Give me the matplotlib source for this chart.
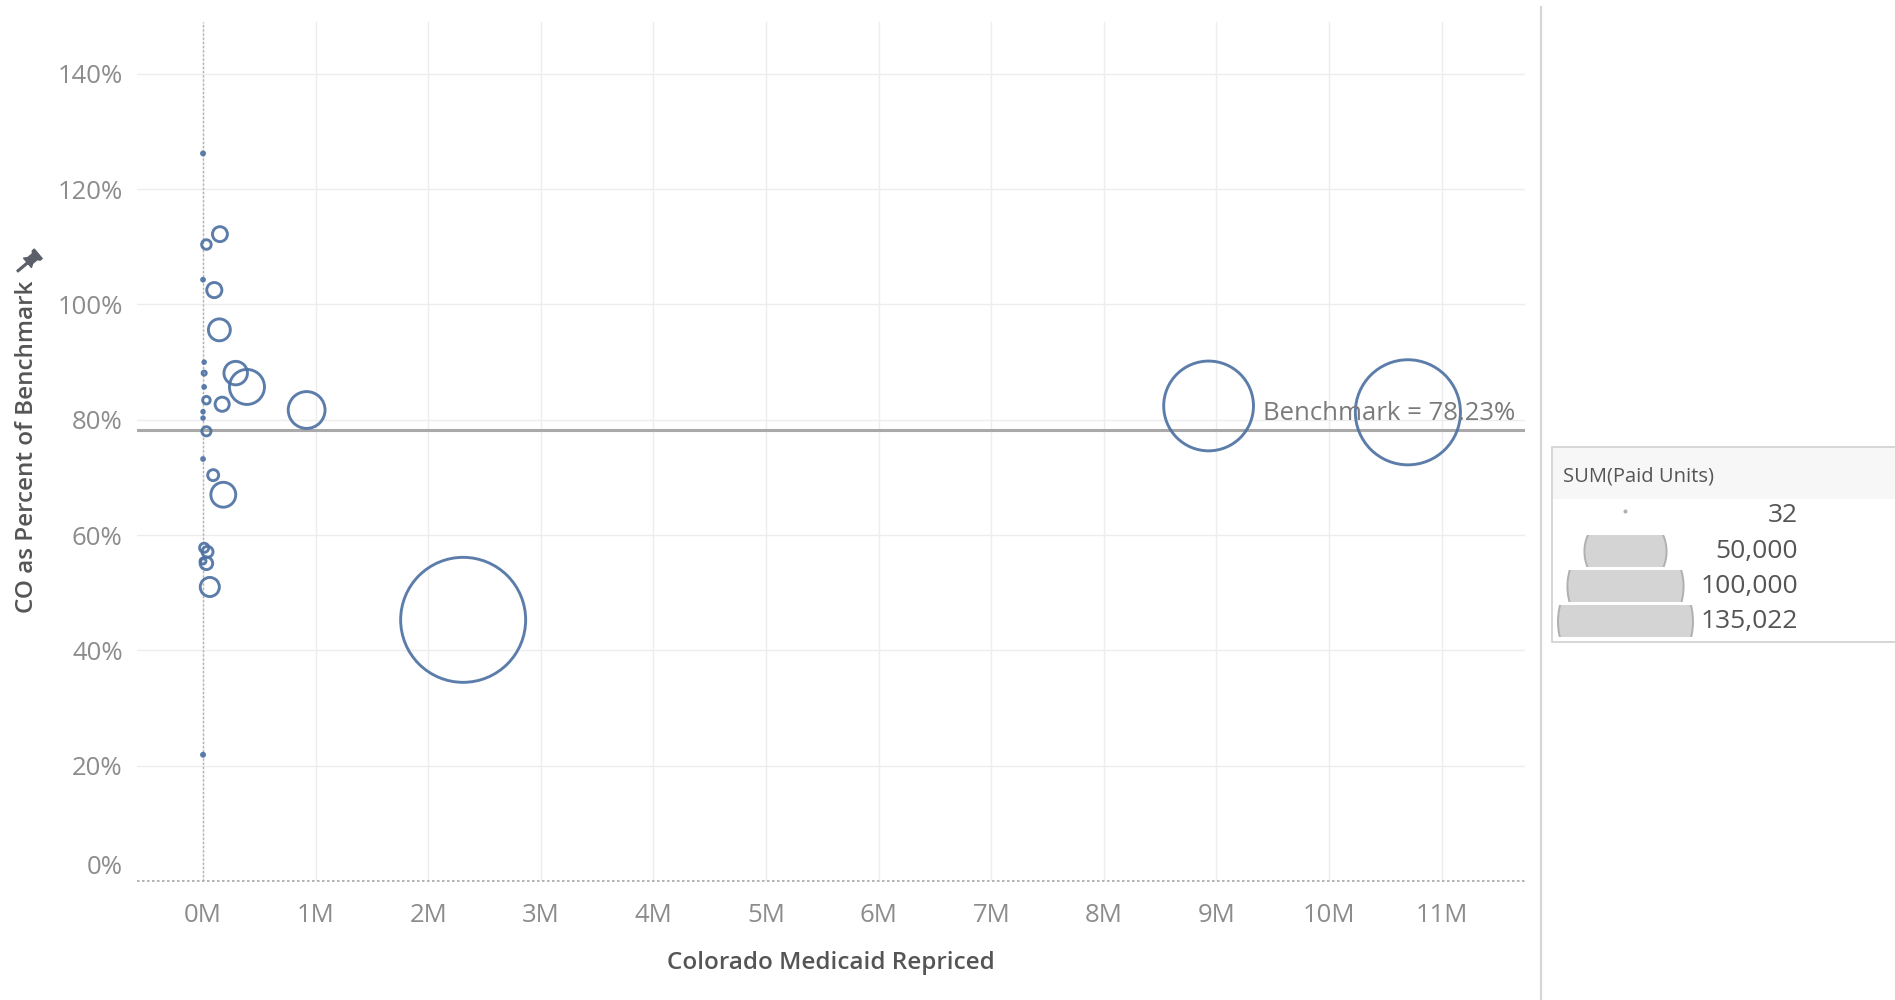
import matplotlib
matplotlib.use("Agg")
import matplotlib.pyplot as plt
from matplotlib.patches import Rectangle, Circle
from matplotlib.path import Path
from matplotlib.transforms import ScaledTranslation, Affine2D
import numpy as np

plt.rcParams['font.family'] = ['Open Sans', 'DejaVu Sans']

# ---------------- data ----------------
repriced_m = [0.00, 0.15, 0.03, 0.00, 0.10, 0.145, 0.01, 0.01, 0.29, 0.39,
              0.01, 0.03, 0.17, 0.00, 0.00, 0.92, 0.03, 0.00, 0.09, 0.18,
              0.01, 0.04, 0.03, 0.00, 0.06, 0.00, 2.31, 8.93, 10.70]
pct_of_benchmark = [126.2, 112.2, 110.4, 104.3, 102.5, 95.6, 90.0, 88.1, 88.1, 85.7,
                    85.7, 83.4, 82.7, 81.4, 80.3, 81.7, 78.0, 73.2, 70.4, 67.0,
                    57.8, 57.1, 55.1, 55.5, 51.0, 21.9, 45.3, 82.4, 81.3]
paid_units = [80, 1930, 790, 70, 1980, 4140, 60, 150, 4770, 10600,
              70, 495, 1730, 60, 60, 11720, 725, 70, 1040, 5350,
              725, 1040, 1360, 300, 3160, 80, 135022, 69640, 95440]
benchmark = 78.23
x_ticks_m = list(range(0, 12))
y_ticks = [0, 20, 40, 60, 80, 100, 120, 140]
legend_values = [32, 50000, 100000, 135022]
legend_labels = ["32", "50,000", "100,000", "135,022"]

W, H = 1895, 1000
DPI = 100
fig = plt.figure(figsize=(W / DPI, H / DPI), dpi=DPI)
fig.patch.set_facecolor('white')

# axes in pixel coords
ax_l, ax_r, ax_t, ax_b = 136.6, 1525, 22, 881
ax = fig.add_axes([ax_l / W, 1 - ax_b / H, (ax_r - ax_l) / W, (ax_b - ax_t) / H])

MAX_R_PX = 62.5
MAX_U = 135022
LW_PX = 2.9

def size_pts2(u):
    r_px = MAX_R_PX * np.sqrt(np.asarray(u, float) / MAX_U)
    d_pt = 2 * r_px * 72.0 / DPI
    return d_pt ** 2

x_vals = np.array(repriced_m) * 1e6
ax.scatter(x_vals, pct_of_benchmark, s=size_pts2(paid_units), facecolors='none',
           edgecolors='#4e72a3', linewidths=LW_PX * 72 / DPI, zorder=3, alpha=0.92)

ax.set_xlim(-0.59e6, 11.74e6)
ax.set_ylim(0, 149.0)

ax.set_xticks([t * 1e6 for t in x_ticks_m])
ax.set_xticklabels([f"{t}M" for t in x_ticks_m])
ax.set_yticks(y_ticks)
ax.set_yticklabels([f"{t}%" for t in y_ticks])

ax.grid(True, color='#ededed', linewidth=1.0, zorder=0)
ax.set_axisbelow(True)
for sp in ax.spines.values():
    sp.set_visible(False)
ax.tick_params(axis='both', length=0, labelcolor='#8c8c8c', labelsize=18.5)
ax.tick_params(axis='x', pad=15.5)
ax.tick_params(axis='y', pad=10)

# zero lines (dotted)
ax.axvline(0, color='#b0b0b0', linewidth=1.0, linestyle=(0, (1.5, 1.5)), zorder=1)
ax.axhline(0, color='#a8a8a8', linewidth=1.2, linestyle=(0, (1.5, 1.5)), zorder=1, clip_on=False)

# raise 0% label like reference
for lbl in ax.get_yticklabels():
    if lbl.get_text() == "0%":
        lbl.set_transform(lbl.get_transform() + ScaledTranslation(0, 16 / DPI, fig.dpi_scale_trans))

# benchmark line
ax.axhline(benchmark, color='#a9a9a9', linewidth=2.2, zorder=2)
ax.text(11.655e6, benchmark + 0.7, f"Benchmark = {benchmark:.2f}%", ha='right', va='bottom',
        fontsize=18.5, color='#7a7a7a', zorder=4)

ax.set_xlabel("Colorado Medicaid Repriced", fontsize=17.5, color='#555555', fontweight='semibold')
ax.set_ylabel("CO as Percent of Benchmark", fontsize=17.5, color='#555555', fontweight='semibold')
ax.xaxis.set_label_coords(0.5, (ax_b - 963) / (ax_b - ax_t))
ax.xaxis.label.set_va('center')
ax.yaxis.set_label_coords((27.5 - ax_l) / (ax_r - ax_l), (ax_b - 447) / (ax_b - ax_t))
ax.yaxis.label.set_va('center')

# overlay axes in pixel coordinates
pax = fig.add_axes([0, 0, 1, 1], facecolor='none')
pax.set_xlim(0, W)
pax.set_ylim(H, 0)
pax.axis('off')

# pushpin icon next to y label
pin_verts = [(-0.35, 0.15), (0.35, 0.15), (0.22, 0.35), (0.22, 0.7), (0.35, 0.8), (0.35, 0.95),
             (-0.35, 0.95), (-0.35, 0.8), (-0.22, 0.7), (-0.22, 0.35), (-0.35, 0.15),
             (-0.05, 0.15), (-0.05, -0.6), (0.05, -0.6), (0.05, 0.15), (-0.35, 0.15)]
pin_codes = [Path.MOVETO] + [Path.LINETO] * 9 + [Path.CLOSEPOLY] + [Path.MOVETO, Path.LINETO, Path.LINETO,
                                                                   Path.LINETO, Path.CLOSEPOLY]
pin_path = Path(pin_verts, pin_codes).transformed(Affine2D().rotate_deg(-50))
pax.plot([25], [264], marker=pin_path, markersize=24, color='#5b5f6a', linestyle='none')

# separator line
pax.plot([1541, 1541], [7, H], color='#d6d6d6', linewidth=1.6)

# ---------------- legend ----------------
lx0, ly0, ly1 = 1551.7, 446.7, 641.7
pax.add_patch(Rectangle((lx0, ly0), W - lx0 + 5, ly1 - ly0, facecolor='white',
                        edgecolor='#d0d0d0', linewidth=1.2, clip_on=False))
pax.add_patch(Rectangle((lx0 + 1, ly0 + 1), W - lx0, 51, facecolor='#f7f7f7',
                        edgecolor='none'))
pax.text(1563, 476.5, "SUM(Paid Units)", fontsize=14.5, color='#555555', va='center', ha='left')

row_centers = [515.5, 551.5, 586.5, 621.5]
row_half = 16.5
shape_cx = 1625.5
LEG_MAX_R = 67.5
for val, lab, cy in zip(legend_values, legend_labels, row_centers):
    r = LEG_MAX_R * np.sqrt(val / MAX_U)
    if val < 1000:
        pax.add_patch(Circle((shape_cx, cy - 4), 2.0, facecolor='#b0b0b0', edgecolor='none'))
    else:
        clip = Rectangle((shape_cx - r - 2, cy - row_half), 2 * r + 4, 2 * row_half - 1,
                         transform=pax.transData)
        c = Circle((shape_cx, cy), r, facecolor='#d4d4d4', edgecolor='#b0b0b0', linewidth=1.4)
        pax.add_patch(c)
        c.set_clip_path(clip)
    pax.text(1798, cy, lab, fontsize=19, color='#555555', ha='right', va='center')

fig.savefig("out.png", dpi=DPI, facecolor='white')
